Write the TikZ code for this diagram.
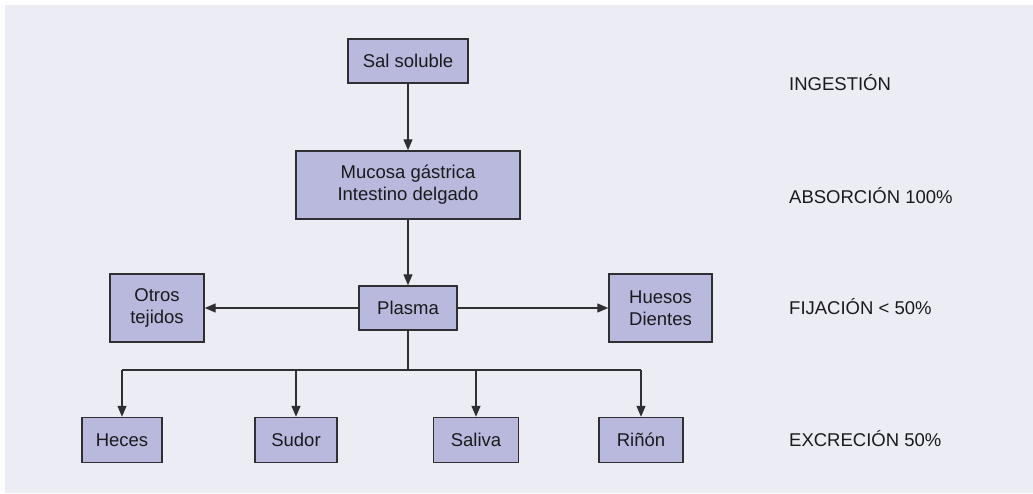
\documentclass[tikz,border=0pt]{standalone}
\usepackage{fontspec}
\setmainfont{Liberation Sans}
\usetikzlibrary{arrows.meta}
\definecolor{panel}{HTML}{ECECF4}
\definecolor{boxfill}{HTML}{B9B9DD}
\definecolor{edge}{HTML}{2E2E33}
\definecolor{ink}{HTML}{1A1A1E}
\begin{document}
\begin{tikzpicture}[x=1pt,y=-1pt,
  font=\fontsize{18.5}{22}\selectfont,
  box/.style={draw=edge,fill=boxfill,line width=1.4pt,align=center,inner sep=0pt,
    text=ink},
  conn/.style={draw=edge,line width=1.3pt},
  arr/.style={conn,-{Triangle[length=11pt,width=9pt]}},
  stage/.style={anchor=base west,inner sep=0pt,text=ink}]
  \useasboundingbox (0,0) rectangle (1033,494);
  \fill[panel] (5,5) rectangle (1033,493);

  % flow boxes
  \node[box,minimum width=120pt,minimum height=44pt] (sal) at (408,61) {Sal soluble};
  \node[box,minimum width=224pt,minimum height=68pt] (muc) at (408,185) {Mucosa gástrica\\Intestino delgado};
  \node[box,minimum width=98pt,minimum height=44pt] (pla) at (408,308) {Plasma};
  \node[box,minimum width=94pt,minimum height=68pt] (otr) at (157,308) {Otros\\tejidos};
  \node[box,minimum width=103pt,minimum height=68pt] (hue) at (660.5,308) {Huesos\\Dientes};
  \node[box,minimum width=80pt,minimum height=45pt] (hec) at (122,440) {Heces};
  \node[box,minimum width=82pt,minimum height=45pt] (sud) at (296,440) {Sudor};
  \node[box,minimum width=85pt,minimum height=45pt] (sali) at (476,440) {Saliva};
  \node[box,minimum width=84pt,minimum height=45pt] (rin) at (641,440) {Riñón};

  % stage labels
  \node[stage] (l1) at (789,90.5) {INGESTIÓN};
  \node[stage] (l2) at (789,204) {ABSORCIÓN 100\%};
  \node[stage] (l3) at (789,314) {FIJACIÓN < 50\%};
  \node[stage] (l4) at (789,446.5) {EXCRECIÓN 50\%};

  % connectors
  \coordinate (bus) at (408,370);
  \draw[arr] (sal) -- (muc);
  \draw[arr] (muc) -- (pla);
  \draw[arr] (pla) -- (otr);
  \draw[arr] (pla) -- (hue);
  \draw[conn] (pla) -- (bus);
  \draw[conn] (hec.north |- bus) -- (rin.north |- bus);
  \draw[arr] (hec.north |- bus) -- (hec.north);
  \draw[arr] (sud.north |- bus) -- (sud.north);
  \draw[arr] (sali.north |- bus) -- (sali.north);
  \draw[arr] (rin.north |- bus) -- (rin.north);
\end{tikzpicture}
\end{document}
